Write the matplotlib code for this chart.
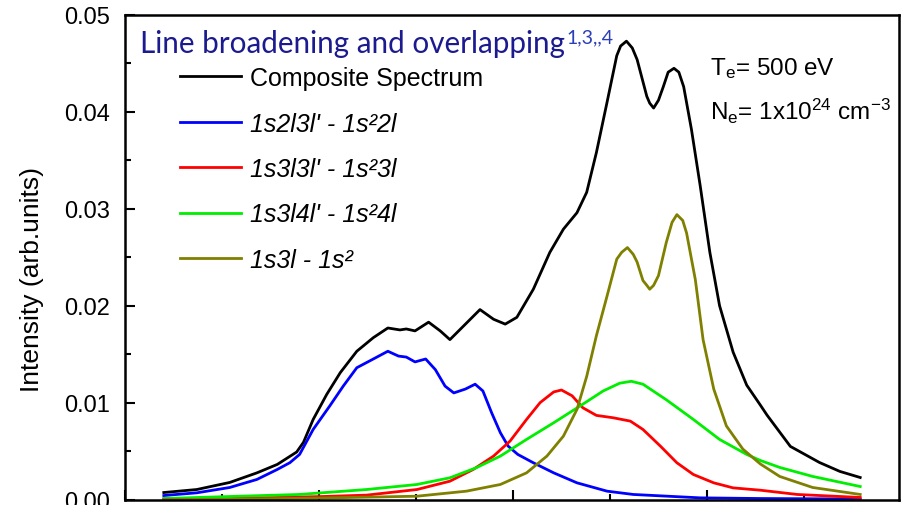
import matplotlib
matplotlib.use("Agg")
import matplotlib.pyplot as plt
from matplotlib.ticker import MultipleLocator, FormatStrFormatter

plt.rcParams["font.family"] = ["Liberation Sans", "DejaVu Sans"]
plt.rcParams["mathtext.fontset"] = "custom"
plt.rcParams["mathtext.rm"] = "Liberation Sans"
plt.rcParams["mathtext.it"] = "Liberation Sans:italic"

# values (x in tick units, y in 1e-3 arb. units)
x_comp = [0.40, 0.74, 1.08, 1.36, 1.57, 1.77, 1.84, 1.94, 2.08, 2.22, 2.39, 2.56,
          2.71, 2.835, 2.90, 2.99, 3.13, 3.25, 3.35, 3.49, 3.66, 3.80, 3.92, 4.04,
          4.21, 4.38, 4.52, 4.66, 4.76, 4.86, 4.97, 5.07, 5.11, 5.17, 5.23, 5.28,
          5.38, 5.41, 5.45, 5.50, 5.55, 5.60, 5.66, 5.71, 5.76, 5.84, 5.93, 6.03,
          6.13, 6.27, 6.41, 6.55, 6.62, 6.86, 7.16, 7.37, 7.58]
y_comp = [0.72, 1.03, 1.76, 2.75, 3.62, 4.9, 5.9, 8.26, 10.85, 13.1, 15.3, 16.7,
          17.7, 17.5, 17.6, 17.4, 18.3, 17.4, 16.5, 17.9, 19.6, 18.6, 18.1, 18.8,
          21.7, 25.5, 27.9, 29.6, 31.7, 35.8, 41.0, 45.8, 46.8, 47.3, 46.6, 45.4,
          41.6, 40.9, 40.4, 41.2, 42.6, 44.1, 44.5, 44.1, 42.6, 38.2, 32.4, 25.5,
          20.0, 15.2, 11.8, 9.75, 8.7, 5.48, 3.82, 2.9, 2.27]

x_2l = [0.40, 0.74, 1.08, 1.36, 1.57, 1.70, 1.80, 1.94, 2.11, 2.25, 2.39, 2.56,
        2.71, 2.82, 2.90, 2.99, 3.10, 3.20, 3.30, 3.39, 3.51, 3.61, 3.69, 3.78,
        3.87, 3.95, 4.05, 4.21, 4.42, 4.66, 4.97, 5.24, 5.93, 6.55, 7.58]
y_2l = [0.41, 0.69, 1.24, 2.07, 3.10, 3.8, 4.65, 7.23, 9.64, 11.7, 13.6, 14.5,
        15.3, 14.8, 14.7, 14.2, 14.5, 13.4, 11.7, 11.0, 11.4, 11.9, 11.2, 8.95,
        6.89, 5.51, 4.65, 3.79, 2.75, 1.72, 0.86, 0.52, 0.17, 0.10, 0.05]

x_3l = [0.40, 1.08, 1.57, 2.01, 2.49, 3.01, 3.35, 3.59, 3.80, 3.97, 4.14, 4.28,
        4.42, 4.50, 4.61, 4.72, 4.86, 5.03, 5.21, 5.34, 5.52, 5.69, 5.86, 6.07,
        6.27, 6.55, 6.93, 7.58]
y_3l = [0.05, 0.10, 0.21, 0.30, 0.45, 1.03, 1.89, 3.10, 4.48, 6.03, 8.26, 10.0,
        11.1, 11.3, 10.7, 9.47, 8.68, 8.44, 8.09, 7.23, 5.51, 3.79, 2.58, 1.72,
        1.20, 0.96, 0.52, 0.21]

x_4l = [0.40, 1.08, 1.80, 2.49, 3.01, 3.35, 3.62, 3.87, 4.14, 4.42, 4.69, 4.93,
        5.10, 5.22, 5.34, 5.58, 5.86, 6.13, 6.41, 6.55, 6.75, 7.09, 7.58]
y_4l = [0.10, 0.31, 0.52, 1.03, 1.55, 2.24, 3.27, 4.48, 6.20, 7.92, 9.64, 11.2,
        12.0, 12.2, 11.9, 10.3, 8.26, 6.20, 4.65, 4.03, 3.31, 2.38, 1.34]

x_1s = [0.40, 1.08, 2.01, 3.01, 3.52, 3.87, 4.14, 4.35, 4.52, 4.66, 4.76, 4.86,
        4.97, 5.07, 5.12, 5.18, 5.24, 5.28, 5.34, 5.38, 5.41, 5.45, 5.50, 5.58,
        5.64, 5.69, 5.75, 5.79, 5.88, 5.96, 6.07, 6.20, 6.37, 6.55, 6.75, 7.09, 7.58]
y_1s = [0.00, 0.02, 0.15, 0.34, 0.86, 1.55, 2.75, 4.48, 6.54, 9.30, 12.7, 16.9,
        21.0, 24.8, 25.5, 26.0, 25.3, 24.5, 22.6, 22.1, 21.7, 22.1, 23.1, 26.5,
        28.6, 29.4, 28.8, 27.5, 22.7, 16.5, 11.4, 7.6, 5.2, 3.67, 2.38, 1.24, 0.52]

labels = ["Composite Spectrum", "1s2l3l' - 1s\u00b22l", "1s3l3l' - 1s\u00b23l",
          "1s3l4l' - 1s\u00b24l", "1s3l - 1s\u00b2"]
colors = ["black", "#0000ff", "#ff0000", "#00ee00", "#808000"]
series = [(x_comp, y_comp), (x_2l, y_2l), (x_3l, y_3l), (x_4l, y_4l), (x_1s, y_1s)]

W, H = 908, 506
fig = plt.figure(figsize=(W / 100, H / 100), dpi=100)
ax = fig.add_axes([125 / W, 5.5 / H, 774 / W, 484.5 / H])

for (xs, ys), c, lab in zip(series, colors, labels):
    ax.plot(xs, [v / 1000 for v in ys], color=c, lw=2.0, label=lab,
            solid_joinstyle="round")

ax.set_xlim(0, 7.98)
ax.set_ylim(0, 0.05)
ax.xaxis.set_major_locator(MultipleLocator(2))
ax.xaxis.set_minor_locator(MultipleLocator(1))
ax.yaxis.set_major_locator(MultipleLocator(0.01))
ax.yaxis.set_minor_locator(MultipleLocator(0.005))
ax.yaxis.set_major_formatter(FormatStrFormatter("%.2f"))
ax.tick_params(which="both", direction="in", top=False, right=False,
               labelbottom=False, labelsize=17, width=1.5, pad=11)
ax.tick_params(which="major", length=7.5)
ax.tick_params(which="minor", length=4)
for s in ax.spines.values():
    s.set_linewidth(1.8)

leg = ax.legend(loc="upper left", bbox_to_anchor=(180 / W, 1 - 67 / H),
                bbox_transform=fig.transFigure, frameon=False, fontsize=18,
                handlelength=2.44, handletextpad=0.36, labelspacing=0.86,
                borderpad=0, borderaxespad=0)
for t in leg.get_texts()[1:]:
    t.set_fontstyle("italic")

title = fig.text(140 / W, 1 - 53 / H, "Line broadening and overlapping",
                 fontsize=21.3, family="Lato", color="#1b1b8f", va="baseline")
fig.canvas.draw()
bb = title.get_window_extent()
fig.text(bb.x1 / W + 0.002, 1 - 43 / H, "1,3,,4", fontsize=14, family="Lato",
         color="#2b3fb8", va="baseline")

fig.text(710 / W, 1 - 75 / H, r"T$_\mathregular{e}$= 500 eV", fontsize=17.5, va="baseline")
fig.text(710 / W, 1 - 120 / H,
         r"N$_\mathregular{e}$= 1x10$^\mathregular{24}$ cm$^\mathregular{-3}$",
         fontsize=17.5, va="baseline")

fig.text(32 / W, 1 - 280 / H, "Intensity (arb.units)", rotation=90, fontsize=19,
         ha="center", va="center")

fig.savefig("out.png", dpi=100)
